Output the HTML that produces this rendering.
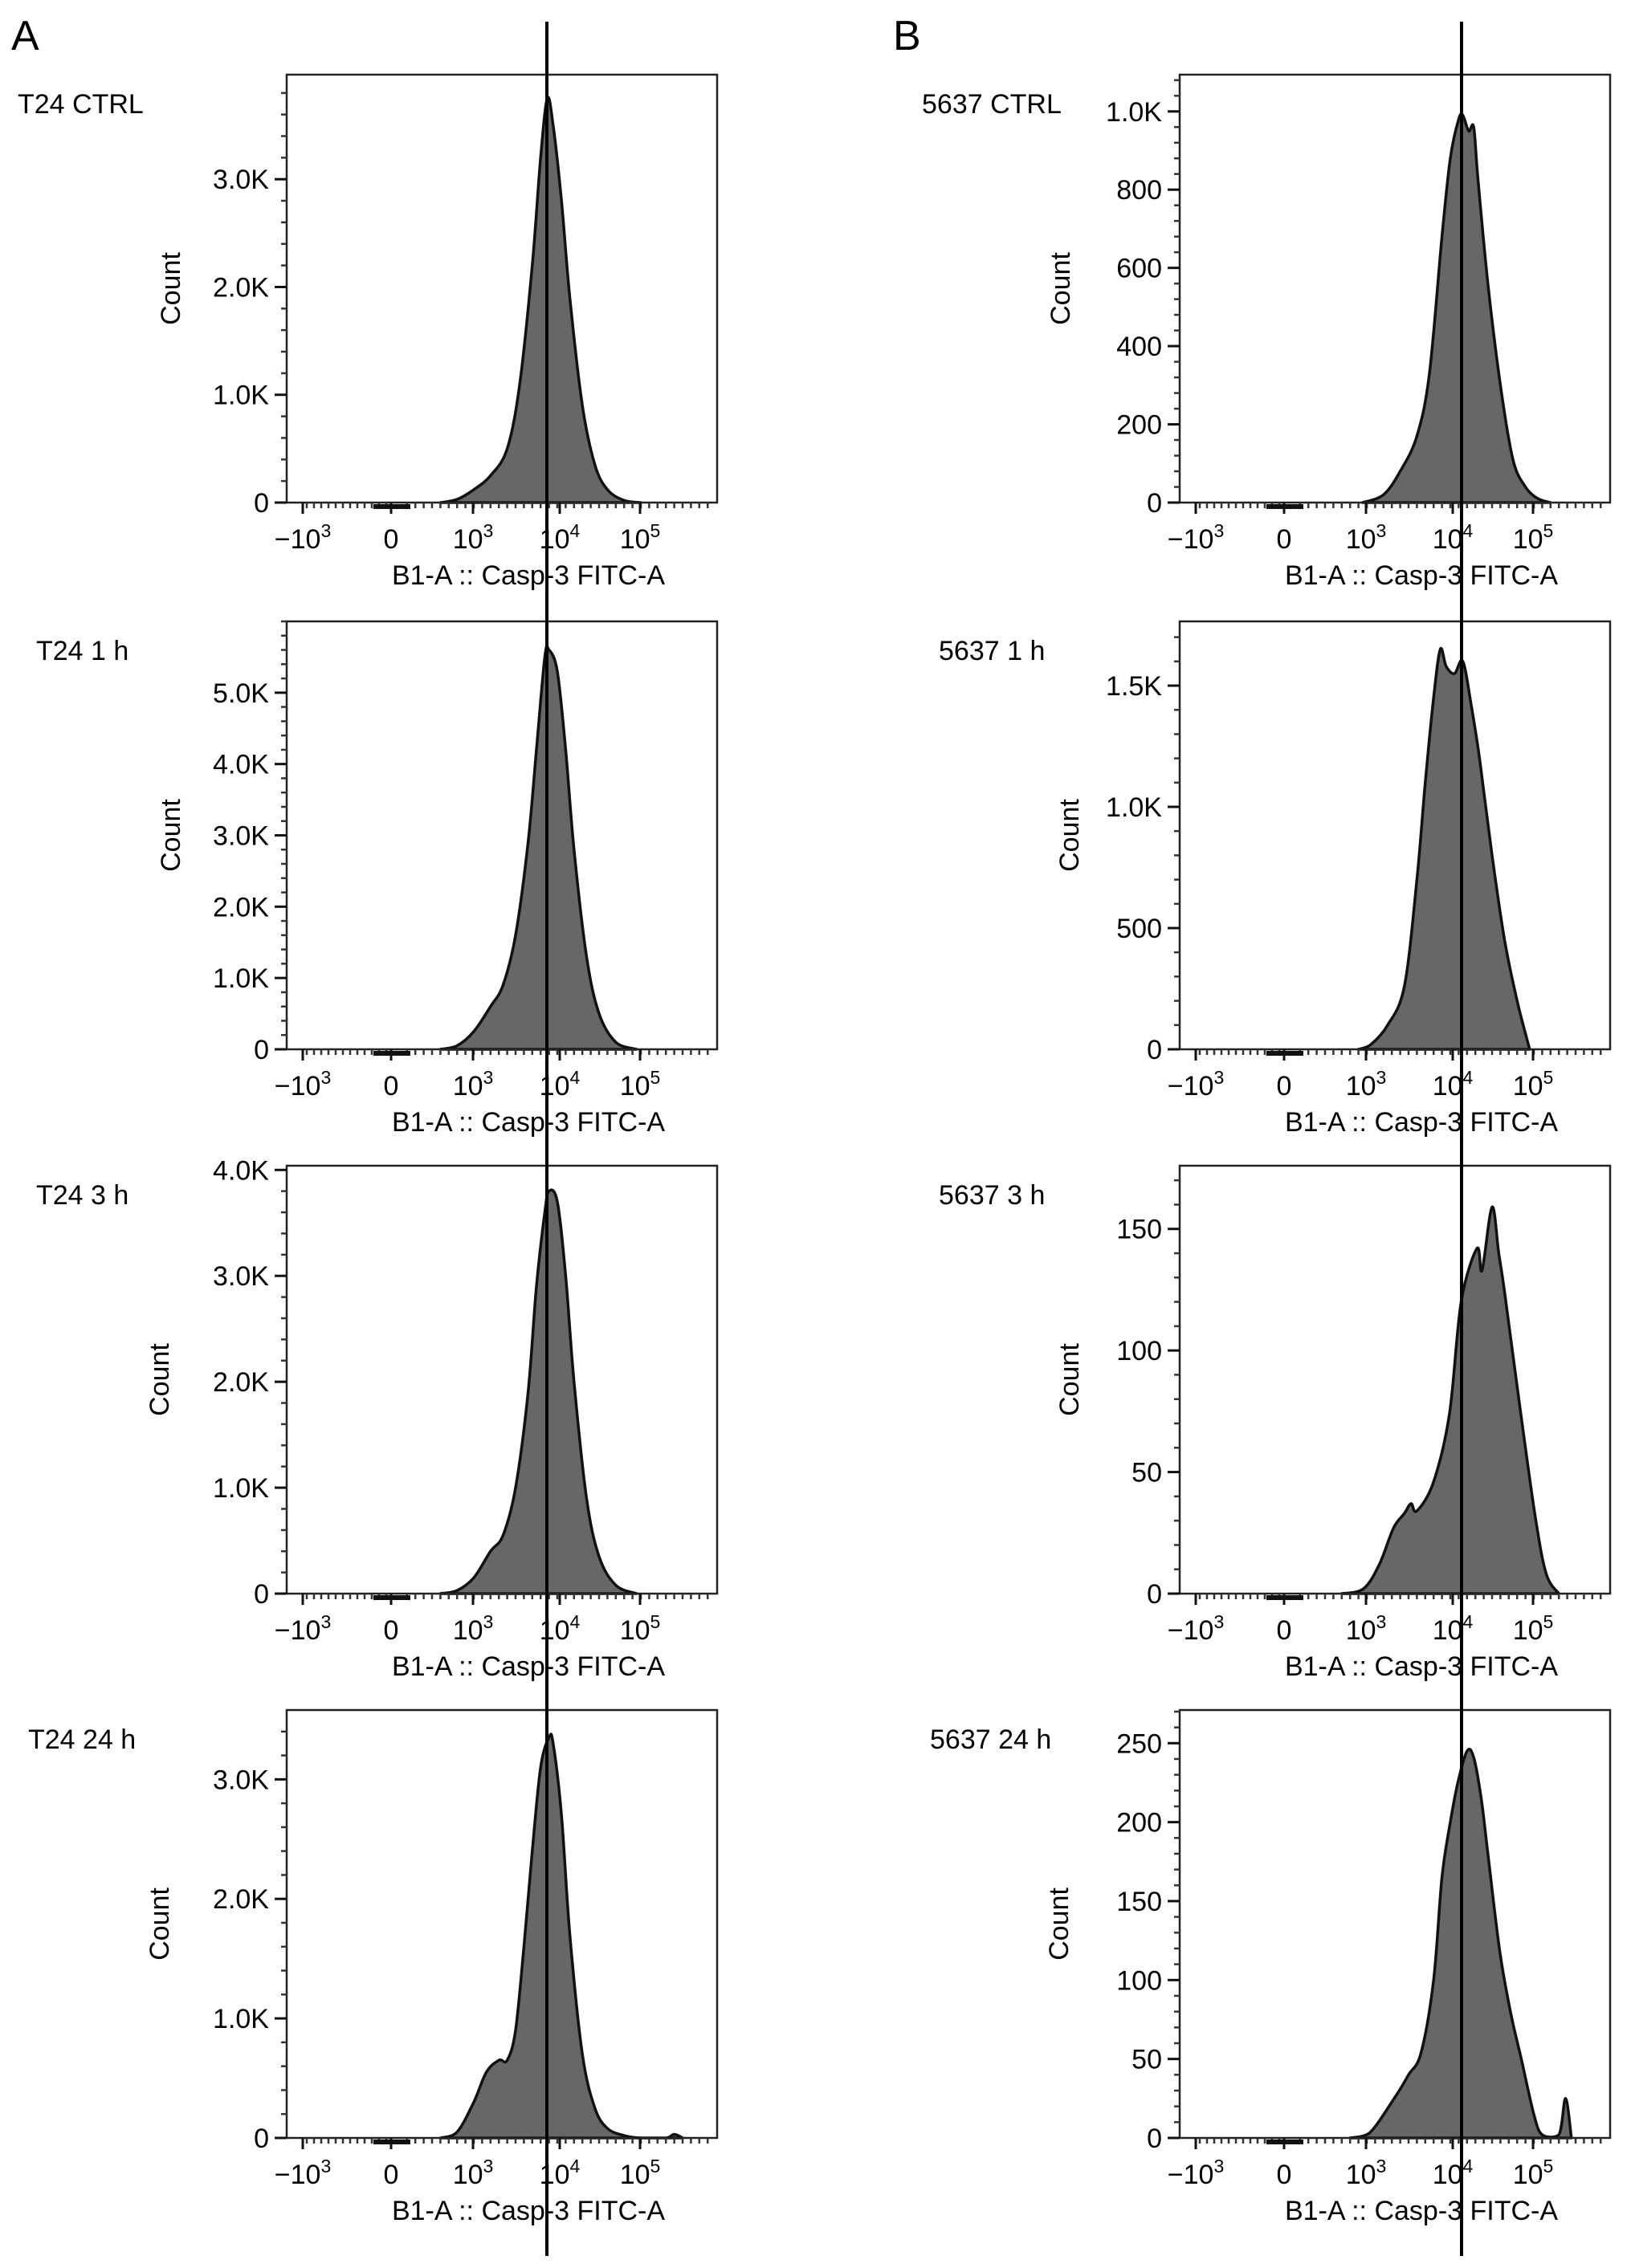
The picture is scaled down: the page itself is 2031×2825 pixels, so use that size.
<!DOCTYPE html>
<html><head><meta charset="utf-8"><style>
html,body{margin:0;padding:0;background:#fff}
svg{display:block;font-family:"Liberation Sans",Arial,sans-serif}
</style></head><body>
<svg id="fig" width="2031" height="2825" viewBox="0 0 2031 2825" xmlns="http://www.w3.org/2000/svg">
<text x="14" y="62" font-size="52">A</text>
<text x="1112" y="62" font-size="52">B</text>
</svg>
<script>
// ---- data (x in log10 decades of fluorescence, y in counts) ----
const titles = ["T24 CTRL","T24 1 h","T24 3 h","T24 24 h","5637 CTRL","5637 1 h","5637 3 h","5637 24 h"];
const yMaxes = [3970,6000,4040,3580,1094,1765,176,271];
const yTicks = [[0,1000,2000,3000],[0,1000,2000,3000,4000,5000],[0,1000,2000,3000,4000],[0,1000,2000,3000],
  [0,200,400,600,800,1000],[0,500,1000,1500],[0,50,100,150],[0,50,100,150,200,250]];
const yTickLabels = [["0","1.0K","2.0K","3.0K"],["0","1.0K","2.0K","3.0K","4.0K","5.0K"],["0","1.0K","2.0K","3.0K","4.0K"],["0","1.0K","2.0K","3.0K"],
  ["0","200","400","600","800","1.0K"],["0","500","1.0K","1.5K"],["0","50","100","150"],["0","50","100","150","200","250"]];
const xA_ctrl = [2.6,2.8,3.0,3.2,3.4,3.55,3.7,3.8,3.88,3.95,4.05,4.15,4.3,4.45,4.6,4.8,5.0];
const yA_ctrl = [0,30,120,250,500,1100,2200,3200,3750,3500,2800,1900,900,350,120,20,0];
const xA_1h = [2.6,2.8,3.0,3.2,3.35,3.5,3.65,3.75,3.85,3.9,4.0,4.1,4.2,4.35,4.5,4.7,4.95];
const yA_1h = [0,50,250,600,900,1600,2900,4200,5500,5600,5300,4200,2800,1300,500,100,0];
const xA_3h = [2.6,2.8,3.0,3.2,3.35,3.5,3.65,3.75,3.85,3.9,4.0,4.1,4.2,4.35,4.5,4.7,4.95];
const yA_3h = [0,30,150,400,550,1000,1900,2900,3600,3800,3700,3000,2000,900,350,80,0];
const xA_24h = [2.6,2.8,3.0,3.15,3.3,3.4,3.5,3.6,3.7,3.8,3.9,3.95,4.05,4.15,4.3,4.45,4.6,4.8,5.0,5.3,5.4,5.5];
const yA_24h = [0,50,300,550,650,650,900,1600,2400,3100,3350,3300,2700,1700,700,250,80,20,0,0,30,0];
const xB_ctrl = [2.95,3.2,3.4,3.6,3.75,3.9,4.0,4.1,4.15,4.22,4.28,4.33,4.45,4.6,4.75,4.9,5.05,5.2];
const yB_ctrl = [0,20,80,170,330,680,880,980,990,950,960,830,560,300,110,40,10,0];
const xB_1h = [2.9,3.05,3.25,3.45,3.6,3.7,3.8,3.88,3.95,4.05,4.15,4.25,4.35,4.5,4.65,4.8,4.95];
const yB_1h = [0,20,100,260,700,1100,1450,1650,1580,1550,1600,1420,1200,800,450,200,0];
const xB_3h = [2.7,2.96,3.15,3.32,3.45,3.53,3.6,3.8,3.99,4.13,4.32,4.38,4.5,4.58,4.65,4.84,5.02,5.15,5.3];
const yB_3h = [0,2,12,27,33,37,34,46,74,120,142,133,159,140,124,75,31,8,0];
const xB_24h = [2.8,3.03,3.34,3.5,3.65,3.8,3.9,4.0,4.09,4.2,4.28,4.37,4.45,4.59,4.72,4.85,5.0,5.1,5.3,5.38,5.45];
const yB_24h = [0,3,26,40,54,100,165,200,225,245,241,215,180,119,80,50,15,2,2,25,0];
const seriesX = [xA_ctrl,xA_1h,xA_3h,xA_24h,xB_ctrl,xB_1h,xB_3h,xB_24h];
const seriesY = [yA_ctrl,yA_1h,yA_3h,yA_24h,yB_ctrl,yB_1h,yB_3h,yB_24h];

const NS="http://www.w3.org/2000/svg";
const svg=document.getElementById('fig');
function mk(tag,attrs,parent){const e=document.createElementNS(NS,tag);for(const k in attrs)e.setAttribute(k,attrs[k]);(parent||svg).appendChild(e);return e;}

const colLeft=[357,1469], rowTop=[93,774,1452,2130], W=536, H=533;
const titleX=[[22,45,45,35],[1148,1169,1169,1158]];
const countX=[[224,224,210,210],[1332,1343,1343,1330]];
const FS=34;

function xScale(left,d){ return left+233+(d-3)*104; }

for(let p=0;p<8;p++){
  const c=Math.floor(p/4), r=p%4;
  const L=colLeft[c], T=rowTop[r], B=T+H, R=L+W;
  const g=mk('g',{});
  
  
  const ys=v=>B-v/yMaxes[p]*H;
  const t=mk('text',{x:titleX[c][r],y:T+48,'font-size':FS},g); t.textContent=titles[p];
   
  const xs=seriesX[p], yv=seriesY[p];
  const pts=xs.map((d,i)=>[xScale(L,d),ys(yv[i])]);
  let dstr='M'+pts[0][0]+','+B+' L'+pts[0][0]+','+pts[0][1];
  for(let i=0;i<pts.length-1;i++){
    const p0=pts[Math.max(0,i-1)],p1=pts[i],p2=pts[i+1],p3=pts[Math.min(pts.length-1,i+2)];
    const k=1/6;
    const c1=[p1[0]+(p2[0]-p0[0])*k, Math.min(B,p1[1]+(p2[1]-p0[1])*k)];
    const c2=[p2[0]-(p3[0]-p1[0])*k, Math.min(B,p2[1]-(p3[1]-p1[1])*k)];
    dstr+=' C'+c1.join(',')+' '+c2.join(',')+' '+p2.join(',');
  }
  dstr+=' L'+pts[pts.length-1][0]+','+B+' Z';
  const h=mk('path',{d:dstr,fill:'#676767',stroke:'#111','stroke-width':3.5,'stroke-linejoin':'round'},g);
   
  const bx=mk('rect',{x:L,y:T,width:W,height:H,fill:'none',stroke:'#222','stroke-width':2.5},g);
   
  const step=yTicks[p][1]-yTicks[p][0];
  for(let v=0;v<=yMaxes[p];v+=step/5){ mk('line',{x1:L-7,x2:L,y1:ys(v),y2:ys(v),stroke:'#333','stroke-width':2.5},g); }
  yTicks[p].forEach((v,i)=>{
    mk('line',{x1:L-15,x2:L,y1:ys(v),y2:ys(v),stroke:'#111','stroke-width':3},g);
    const lt=mk('text',{x:L-22,y:ys(v)+12,'font-size':FS,'text-anchor':'end'},g); lt.textContent=yTickLabels[p][i];
     
  });
  const majors=[[20,'neg'],[130,'0'],[232,'3'],[340,'4'],[440,'5']];
  for(let d=2;d<5.8;d+=0.1){ const x=xScale(L,d); if(x>L+140&&x<R-4) mk('line',{x1:x,x2:x,y1:B,y2:B+7,stroke:'#333','stroke-width':2.5},g); }
  for(let x=L+25;x<L+130;x+=9){ mk('line',{x1:x,x2:x,y1:B,y2:B+7,stroke:'#333','stroke-width':2.5},g); }
  mk('line',{x1:L+108,x2:L+154,y1:B+5,y2:B+5,stroke:'#111','stroke-width':6},g);
  majors.forEach(m=>{
    const x=L+m[0];
    mk('line',{x1:x,x2:x,y1:B,y2:B+14,stroke:'#111','stroke-width':3},g);
    const tx=mk('text',{x:x,y:B+57,'font-size':FS,'text-anchor':'middle'},g);
     
    if(m[1]==='0'){tx.textContent='0';}
    else{
      const base=mk('tspan',{},tx); base.textContent=(m[1]==='neg'?'\u221210':'10');
      const sup=mk('tspan',{dy:-14,'font-size':23},tx); sup.textContent=(m[1]==='neg'?'3':m[1]);
    }
  });
  const xl=mk('text',{x:L+W/2+33,y:B+102,'font-size':FS,'text-anchor':'middle'},g); xl.textContent='B1-A :: Casp-3 FITC-A';
   
  const cx=countX[c][r], cy=T+H/2;
  const yl=mk('text',{x:cx,y:cy,'font-size':FS,'text-anchor':'middle',transform:'rotate(-90 '+cx+' '+cy+')'},g); yl.textContent='Count';
   
}
const gl1=mk('line',{x1:681,x2:681,y1:27,y2:2810,stroke:'#000','stroke-width':4});
 
const gl2=mk('line',{x1:1820,x2:1820,y1:27,y2:2810,stroke:'#000','stroke-width':4});
 
</script>
</body></html>
